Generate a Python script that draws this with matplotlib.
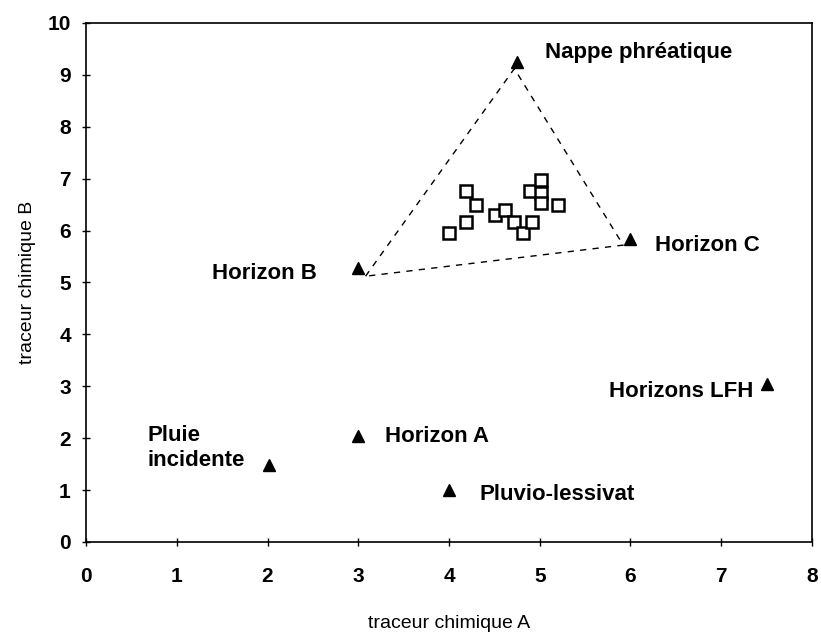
import matplotlib
matplotlib.use('Agg')
import matplotlib.pyplot as plt

plt.rcParams['font.family'] = ['Liberation Sans', 'DejaVu Sans']

# end-member sources (filled triangles)
source_names = ['Nappe phréatique', 'Horizon C', 'Horizon B', 'Horizon A',
                'Pluie\nincidente', 'Pluvio-lessivat', 'Horizons LFH']
source_a = [4.75, 5.99, 3.0, 3.0, 2.02, 4.0, 7.5]
source_b = [9.24, 5.84, 5.28, 2.05, 1.48, 1.0, 3.05]

# stream water samples (open squares)
sample_a = [4.19, 4.30, 4.19, 4.00, 4.51, 4.62, 4.72, 4.81, 4.91, 4.89, 5.01, 5.01, 5.01, 5.20]
sample_b = [6.77, 6.49, 6.17, 5.96, 6.30, 6.40, 6.17, 5.96, 6.17, 6.76, 6.97, 6.72, 6.53, 6.49]

# mixing envelope (dashed triangle)
env_a = [3.08, 4.72, 5.92, 3.08]
env_b = [5.12, 9.12, 5.72, 5.12]

# label anchors: (x, y, ha)
label_pos = [(5.06, 9.44, 'left'), (6.27, 5.72, 'left'), (2.54, 5.18, 'right'),
             (3.29, 2.03, 'left'), (0.68, 1.81, 'left'), (4.34, 0.91, 'left'),
             (7.35, 2.90, 'right')]

fig = plt.figure(figsize=(8.21, 6.38), dpi=100)
ax = fig.add_axes([0.1048, 0.1505, 0.8842, 0.8135])

ax.plot(env_a, env_b, linestyle=(0, (4.5, 4.5)), color='black', linewidth=1.0)
ax.plot(sample_a, sample_b, linestyle='none', marker='s', markersize=8,
        markerfacecolor='white', markeredgecolor='black', markeredgewidth=1.8)
ax.plot(source_a, source_b, linestyle='none', marker='^', markersize=9,
        color='black')

for name, (lx, ly, ha) in zip(source_names, label_pos):
    ax.text(lx, ly, name, ha=ha, va='center', fontsize=16, fontweight='bold',
            linespacing=1.2)

ax.set_xlim(0, 8)
ax.set_ylim(0, 10)
ax.set_xticks(range(0, 9))
ax.set_yticks(range(0, 11))
ax.tick_params(direction='inout', length=6, width=1, labelsize=15)
ax.tick_params(axis='x', pad=15)
ax.tick_params(axis='y', pad=8)
for lab in ax.get_xticklabels() + ax.get_yticklabels():
    lab.set_fontweight('bold')
for sp in ax.spines.values():
    sp.set_linewidth(1.2)

ax.set_xlabel('traceur chimique A', fontsize=14, labelpad=21)
ax.set_ylabel('traceur chimique B', fontsize=14, labelpad=8)

fig.savefig('out.png', dpi=100)
